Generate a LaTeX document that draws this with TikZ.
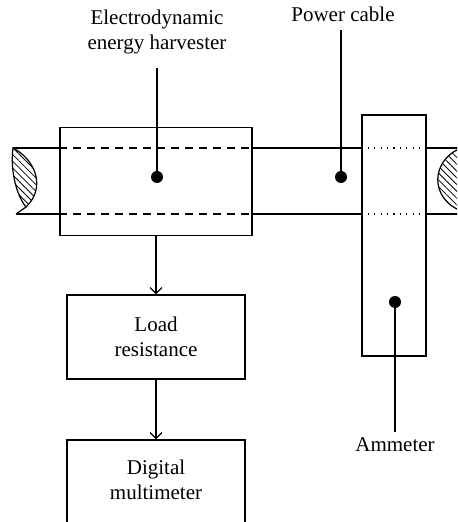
\documentclass[tikz,border=0pt]{standalone}
\usepackage{fontspec}
\setmainfont{Liberation Serif}
\usetikzlibrary{arrows.meta,positioning,patterns.meta}
\tikzset{
  block/.style={rectangle, draw=black, line width=0.6pt, inner sep=0pt, align=center},
  dot/.style={circle, fill=black, inner sep=0pt, minimum size=6pt},
  lbl/.style={align=center, inner sep=0pt},
  lead/.style={line width=0.6pt},
  cable/.style={line width=0.6pt},
  hidden/.style={line width=0.6pt, dash pattern=on 4pt off 3pt},
  dotline/.style={line width=0.6pt, dash pattern=on 0.6pt off 2.6pt},
  hatch/.style={line width=0.6pt, pattern={Lines[angle=-45,distance=2.4pt,line width=0.4pt]}},
  flow/.style={line width=0.6pt, -{Straight Barb[length=3pt,width=6pt]}},
}
\begin{document}
\begin{tikzpicture}[x=0.5pt,y=-0.5pt,font=\fontsize{10.5}{12.5}\selectfont]
  \useasboundingbox (0,0) rectangle (457,522);
  \clip (0,0) rectangle (457,522);
  % boxes
  \node[block, minimum width=96pt, minimum height=54pt] (harv) at (156,181.5) {};
  \node[block, minimum width=32pt, minimum height=120.5pt] (amm) at (394,235.5) {};
  \node[block, minimum width=89pt, minimum height=42pt] (load) at (156,337) {Load\\resistance};
  \node[block, minimum width=89pt, minimum height=50pt,
        label={[lbl, yshift=5pt]center:Digital\\multimeter}] (dmm) at (156,490) {};
  % cable
  \coordinate (tl) at (13,148);
  \coordinate (bl) at (16,214);
  \coordinate (tr) at (470,148);
  \coordinate (br) at (470,214);
  \draw[cable] (tl) -- (harv.west |- tl);
  \draw[hidden] (harv.west |- tl) -- (harv.east |- tl);
  \draw[cable] (harv.east |- tl) -- (amm.west |- tl);
  \draw[dotline] (amm.west |- tl) -- (amm.east |- tl);
  \draw[cable] (amm.east |- tl) -- (tr);
  \draw[cable] (bl) -- (harv.west |- bl);
  \draw[hidden] (harv.west |- bl) -- (harv.east |- bl);
  \draw[cable] (harv.east |- bl) -- (amm.west |- bl);
  \draw[dotline] (amm.west |- bl) -- (amm.east |- bl);
  \draw[cable] (amm.east |- bl) -- (br);
  % broken ends
  \draw[hatch] (tl) .. controls (10,172) and (17,196) .. (26,207)
    .. controls (46,188) and (36,160) .. (tl) -- cycle;
  \draw[cable] (26,207) -- (bl);
  \draw[hatch] (464,147) .. controls (430,158) and (428,200) .. (464,212) -- cycle;
  % dots and leaders
  \node[dot] (hdot) at (157,177) {};
  \node[dot] (cdot) at (341,177) {};
  \node[dot] (adot) at (395,302) {};
  \node[lbl] (hlbl) at (157,32) {Electrodynamic\\energy harvester};
  \node[lbl] (clbl) at (343,14) {Power cable};
  \node[lbl] (albl) at (395,445) {Ammeter};
  \coordinate (htop) at (157,68);
  \coordinate (ctop) at (341,30);
  \coordinate (abot) at (395,432);
  \draw[lead] (hdot.center) -- (htop);
  \draw[lead] (cdot.center) -- (ctop);
  \draw[lead] (adot.center) -- (abot);
  % signal path
  \draw[flow] (harv) -- (load);
  \draw[flow] (load) -- (dmm);
\end{tikzpicture}
\end{document}
